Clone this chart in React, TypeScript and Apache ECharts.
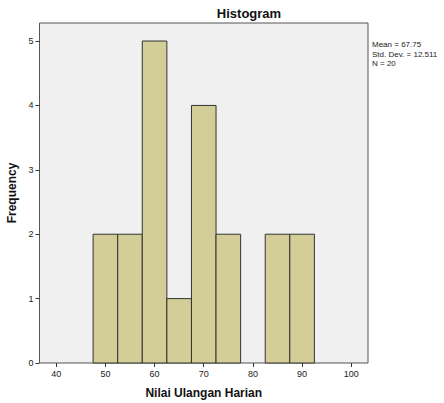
import React, { useEffect, useRef } from "react";
import * as echarts from "echarts";

const binStarts = [47.5, 52.5, 57.5, 62.5, 67.5, 72.5, 77.5, 82.5, 87.5];
const binEnds = [52.5, 57.5, 62.5, 67.5, 72.5, 77.5, 82.5, 87.5, 92.5];
const frequencies = [2, 2, 5, 1, 4, 2, 0, 2, 2];
const xTicks = [40, 50, 60, 70, 80, 90, 100];
const yTicks = [0, 1, 2, 3, 4, 5];
const statsLines = ["Mean = 67.75", "Std. Dev. = 12.511", "N = 20"];

const FONT = "Liberation Sans";

export default function App() {
  const ref = useRef<HTMLDivElement>(null);
  useEffect(() => {
    if (!ref.current) return;
    const chart = echarts.init(ref.current, undefined, { renderer: "svg" });
    const data = binStarts.map((s, i) => [s, binEnds[i], frequencies[i]]);
    chart.setOption({
      animation: false,
      textStyle: { fontFamily: FONT },
      title: {
        text: "Histogram",
        left: 244,
        top: 2,
        textAlign: "center",
        textStyle: { fontFamily: FONT, fontSize: 13, fontWeight: "bold", color: "#111" },
      },
      grid: {
        left: 39.5,
        top: 23,
        width: 328.5,
        height: 340,
        containLabel: false,
        outerBoundsMode: "none",
        show: true,
        backgroundColor: "#f0f0f0",
        borderColor: "#555",
        borderWidth: 1,
      },
      xAxis: {
        type: "value",
        min: 36.6,
        max: 103.4,
        name: "Nilai Ulangan Harian",
        nameLocation: "middle",
        nameGap: 24,
        nameTextStyle: { fontFamily: FONT, fontSize: 12, fontWeight: "bold", color: "#111" },
        axisLine: { show: false },
        splitLine: { show: false },
        axisTick: { show: true, length: 4, customValues: xTicks, lineStyle: { color: "#333" } },
        axisLabel: { customValues: xTicks, fontSize: 9, color: "#222", margin: 6, fontFamily: FONT },
      },
      yAxis: {
        type: "value",
        min: 0,
        max: 5.28,
        name: "Frequency",
        nameLocation: "middle",
        nameGap: 20,
        nameRotate: 90,
        nameTextStyle: { fontFamily: FONT, fontSize: 12, fontWeight: "bold", color: "#111" },
        axisLine: { show: false },
        splitLine: { show: false },
        axisTick: { show: true, length: 4, customValues: yTicks, lineStyle: { color: "#333" } },
        axisLabel: { customValues: yTicks, fontSize: 9, color: "#222", margin: 6, fontFamily: FONT },
      },
      graphic: [
        {
          type: "text",
          left: 372,
          top: 40,
          style: {
            text: statsLines.join("\n"),
            fontFamily: FONT,
            fontSize: 8,
            lineHeight: 9.5,
            fill: "#222",
          },
        },
      ],
      series: [
        {
          type: "custom",
          data,
          encode: { x: [0, 1], y: 2 },
          renderItem: (params: any, api: any) => {
            const lo = api.value(0);
            const hi = api.value(1);
            const f = api.value(2);
            if (!f) return null;
            const p1 = api.coord([lo, f]);
            const p2 = api.coord([hi, 0]);
            return {
              type: "rect",
              shape: { x: p1[0], y: p1[1], width: p2[0] - p1[0], height: p2[1] - p1[1] },
              style: { fill: "#d3ce98", stroke: "#333", lineWidth: 1 },
            };
          },
        },
      ],
    });
    return () => chart.dispose();
  }, []);
  return (
    <div
      ref={ref}
      style={{ position: "absolute", left: 0, top: 0, width: 444, height: 403 }}
    />
  );
}
